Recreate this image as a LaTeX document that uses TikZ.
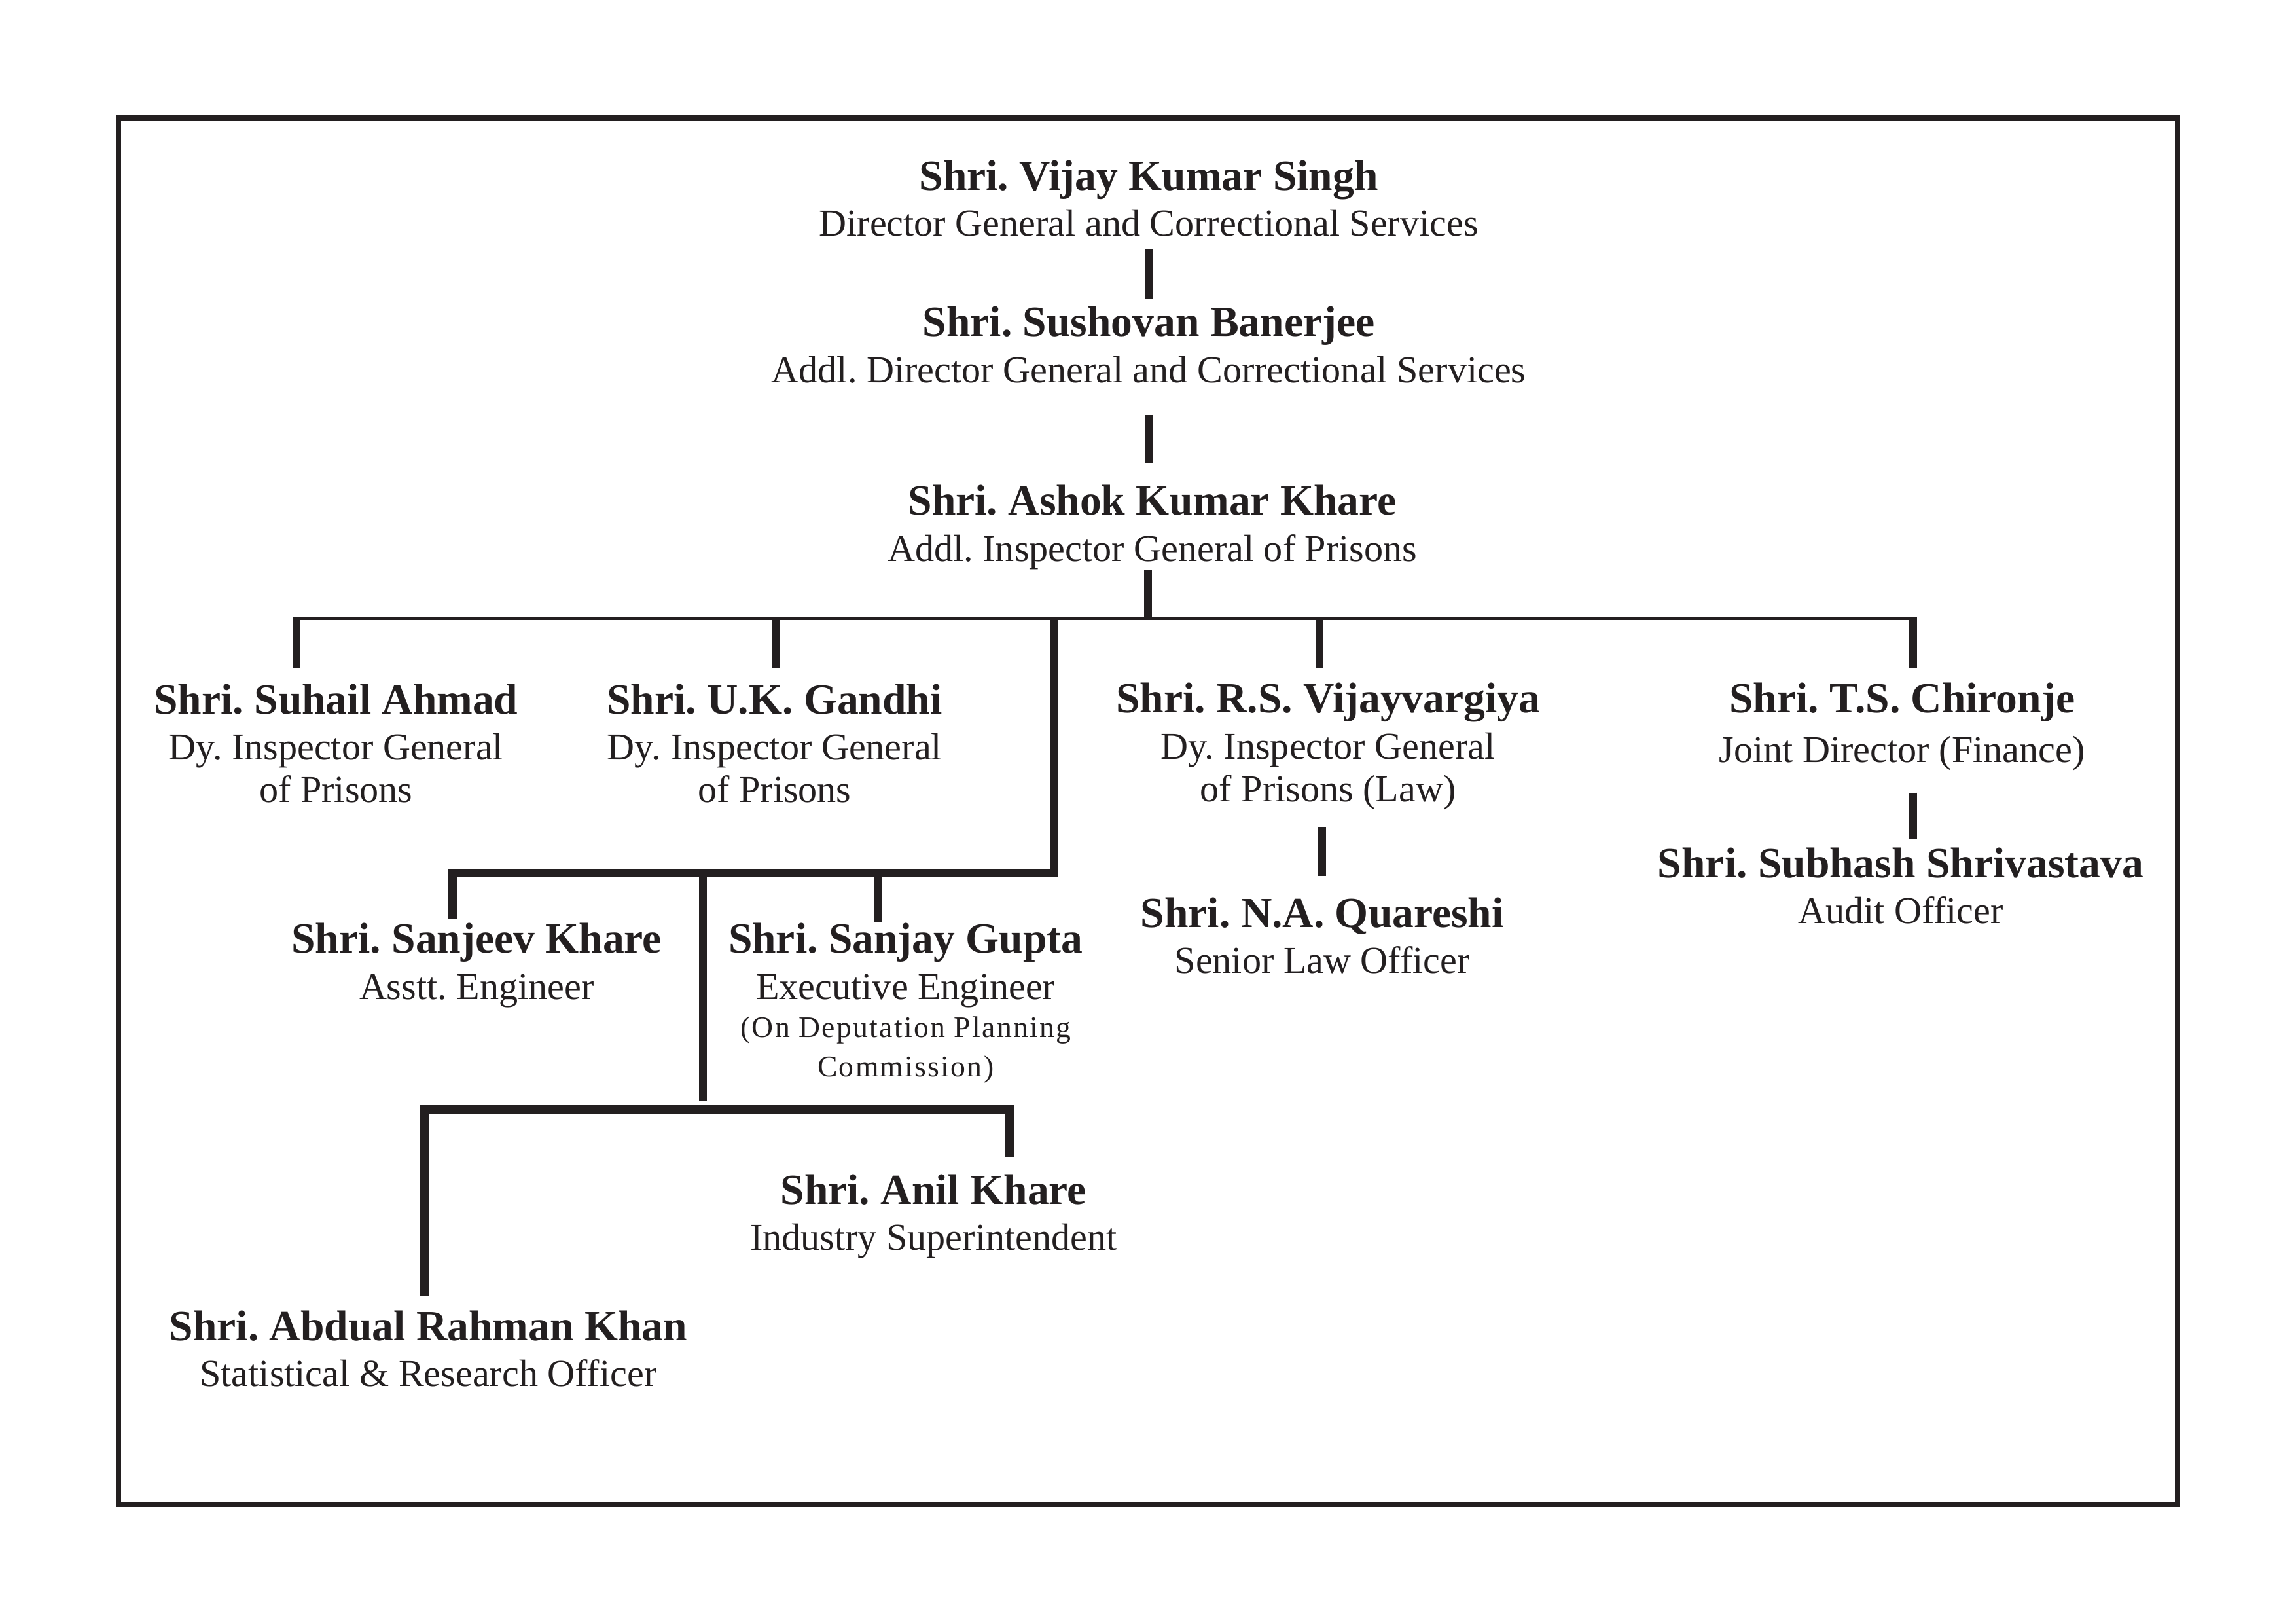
\documentclass[tikz,border=0pt]{standalone}
\usepackage{fontspec}
\setmainfont{Liberation Serif}
\usepackage{tikz}
\frenchspacing
\definecolor{Ink}{HTML}{231F20}
\newcommand{\pname}[1]{{\fontsize{15.8}{15.65}\selectfont\bfseries #1}}
\newcommand{\pnote}[1]{{\addfontfeature{LetterSpace=5}\fontsize{11}{14.2}\selectfont #1}}
\tikzset{person/.style={anchor=north,inner sep=0pt,align=center,text=Ink,font=\fontsize{14}{15.65}\selectfont},stem/.style={draw=Ink,line width=2.9pt},bus/.style={draw=Ink,line width=1.2pt},bar/.style={draw=Ink,line width=3.1pt,line join=miter},pageframe/.style={draw=Ink,line width=2pt}}

\begin{document}
\begin{tikzpicture}[x=0.018941cm,y=-0.018941cm]
      \useasboundingbox (0,0) rectangle (1568,1108);
      \draw[pageframe](80.9,80.7) rectangle (1487.1,1027.2);
      \node[person](dg) at (784.5,109){\pname{Shri. Vijay Kumar Singh}\\[1.25pt]Director General and Correctional Services};
      \node[person](adg) at (784.5,209){\pname{Shri. Sushovan Banerjee}\\[1.25pt]Addl. Director General and Correctional Services};
      \node[person](aig) at (787,331){\pname{Shri. Ashok Kumar Khare}\\[1.25pt]Addl. Inspector General of Prisons};
      \node[person](suhail) at (229.5,466.5){\pname{Shri. Suhail Ahmad}\\[1.25pt]Dy. Inspector General\\of Prisons};
      \node[person](gandhi) at (529,466.5){\pname{Shri. U.K. Gandhi}\\[1.25pt]Dy. Inspector General\\of Prisons};
      \node[person](vijay) at (907,466){\pname{Shri. R.S. Vijayvargiya}\\[1.25pt]Dy. Inspector General\\of Prisons (Law)};
      \node[person](chironje) at (1299,466){\pname{Shri. T.S. Chironje}\\[2.5pt]Joint Director (Finance)};
      \node[person](quareshi) at (903,612.5){\pname{Shri. N.A. Quareshi}\\[1.25pt]Senior Law Officer};
      \node[person](shrivastava) at (1298,578.5){\pname{Shri. Subhash Shrivastava}\\[1.25pt]Audit Officer};
      \node[person](sanjeev) at (325.5,630){\pname{Shri. Sanjeev Khare}\\[1.25pt]Asstt. Engineer};
      \node[person](sanjay) at (618.5,630){\pname{Shri. Sanjay Gupta}\\[1.25pt]Executive Engineer\\[-1.5pt]\pnote{(On Deputation Planning}\\[-1.3pt]\pnote{Commission)}};
      \node[person](anil) at (637.5,801.3){\pname{Shri. Anil Khare}\\[1.25pt]Industry Superintendent};
      \node[person](abdual) at (292.5,894.5){\pname{Shri. Abdual Rahman Khan}\\[1.25pt]Statistical \& Research Officer};
      \coordinate (hub) at (784,422.2);
      \coordinate (b1a) at (202.5,422.2);\coordinate (b1b) at (530.3,422.2);\coordinate (b1m) at (720.1,422.2);
      \coordinate (b1c) at (901,422.2);\coordinate (b1d) at (1306.5,422.2);
      \coordinate (b2l) at (309,596);\coordinate (b2m) at (480.2,596);\coordinate (b2s) at (599.5,596);\coordinate (b2r) at (720.1,596);
      \coordinate (b3l) at (290,757.5);\coordinate (b3m) at (480.2,757.5);\coordinate (b3r) at (689.3,757.5);
      \draw[stem,shorten <=4.7pt,shorten >=2.6pt](dg.south) -- (dg.south |- adg.north);
      \draw[stem,shorten <=11.6pt,shorten >=8.1pt](adg.south) -- (adg.south |- aig.north);
      \draw[stem,shorten >=-0.6pt](aig.south -| hub) -- (hub);
      \draw[bus,shorten <=-1.45pt,shorten >=-1.45pt](b1a) -- (b1d);
      \draw[stem,shorten <=-0.6pt,shorten >=5.6pt](b1a) -- (b1a |- suhail.north);
      \draw[stem,shorten <=-0.6pt,shorten >=5.4pt](b1b) -- (b1b |- gandhi.north);
      \draw[stem,shorten <=-0.6pt,shorten >=5.5pt](b1c) -- (b1c |- vijay.north);
      \draw[stem,shorten <=-0.6pt,shorten >=5.5pt](b1d) -- (b1d |- chironje.north);
      \draw[stem,shorten <=6.3pt,shorten >=7.9pt](quareshi.north |- vijay.south) -- (quareshi.north);
      \draw[stem,shorten <=8pt,shorten >=3pt](b1d |- chironje.south) -- (b1d |- shrivastava.north);
      \draw[bar,shorten <=1.6pt,shorten >=-0.6pt](b2l |- sanjeev.north) -- (b2l) -- (b2r) -- (b1m);
      \draw[stem,shorten >=0.3pt](b2s) -- (b2s |- sanjay.north);
      \draw[stem,shorten >=3pt](b2m) -- (b3m);
      \draw[bar,shorten <=5.3pt,shorten >=6.25pt](b3l |- abdual.north) -- (b3l) -- (b3r) -- (b3r |- anil.north);
    \end{tikzpicture}
\end{document}
